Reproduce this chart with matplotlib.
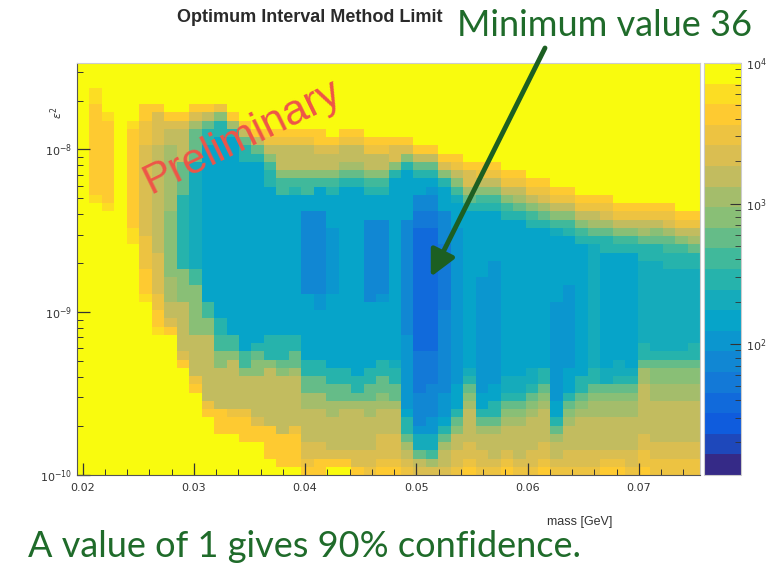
import sys
import numpy as np
import matplotlib
matplotlib.use("Agg")
import matplotlib.pyplot as plt
from matplotlib.colors import LinearSegmentedColormap, ListedColormap, LogNorm
from matplotlib.ticker import MultipleLocator, FormatStrFormatter, LogLocator, NullFormatter

# ---------------- data ----------------
MASS_RANGE = [0.0195, 0.0755]          # x axis (mass [GeV])
EPS_RANGE = [1e-10, 3.4e-8]            # y axis (log)
Z_RANGE = [11.7, 1e4]                  # colour scale (log)
N_LEVELS = 20                          # ROOT contour levels
LEVEL_CODES = "0123456789abcdefghij"   # level 0 (lowest) .. level 19 (>= 1e4)
MIN_MASS = 0.0513
MIN_EPS = 1.65e-9
MIN_VALUE = 36

# one string per mass bin (left to right); runs "level*count" from top to bottom
COLUMN_LEVELS = [
    "j*50",
    "j*3 i*2 h*11 i*1 j*33",
    "j*6 i*1 h*10 i*1 j*32",
    "j*50",
    "j*7 i*1 h*12 i*2 j*28",
    "j*5 h*2 g*3 f*11 g*4 h*3 i*1 j*21",
    "j*5 h*1 f*4 e*13 f*5 g*2 h*2 i*1 j*17",
    "j*6 h*1 f*1 e*2 d*8 c*8 d*3 e*2 f*1 h*1 j*17",
    "j*6 h*1 f*1 e*4 b*4 9*9 c*4 e*6 f*1 h*1 j*13",
    "j*5 h*1 f*1 d*1 b*4 8*13 a*2 c*6 e*5 g*1 h*1 j*10",
    "j*5 h*1 e*1 b*1 9*2 7*19 a*2 c*2 e*8 g*1 h*1 j*7",
    "j*5 g*1 c*1 9*2 7*22 9*2 a*2 c*2 e*5 h*3 j*5",
    "j*6 h*1 d*1 9*1 7*24 a*2 c*1 e*6 g*1 h*2 j*5",
    "j*7 h*1 e*1 b*1 9*2 7*23 a*2 c*1 e*4 g*1 h*3 j*4",
    "j*8 h*1 e*1 b*1 9*1 7*22 9*1 b*1 c*2 e*5 f*1 h*2 j*4",
    "j*8 h*1 g*1 e*1 c*1 a*1 9*2 7*18 9*3 c*1 e*7 h*4 j*2",
    "j*8 h*1 g*1 e*3 c*1 a*2 7*17 9*3 b*1 c*1 e*7 h*4 j*1",
    "j*8 h*1 g*1 e*3 c*1 a*1 9*1 7*17 9*2 b*2 d*1 e*6 g*1 h*4 j*1",
    "j*8 h*1 g*1 e*3 c*1 a*2 7*2 5*10 7*8 9*2 b*2 d*2 e*4 f*2 g*1 h*1",
    "j*8 h*2 f*1 e*2 c*1 a*1 7*3 5*10 6*2 7*6 9*2 b*2 d*2 e*4 f*2 h*2",
    "j*9 h*1 f*1 e*2 c*1 a*1 9*1 7*4 6*8 7*9 9*2 b*2 d*2 e*4 f*1 h*1 j*1",
    "j*8 h*1 g*1 e*2 d*1 b*1 9*1 7*22 9*2 b*2 d*1 e*5 f*1 h*1 j*1",
    "j*8 h*1 g*1 e*2 d*1 b*1 9*1 7*23 9*2 b*1 d*1 e*5 f*2 h*1",
    "j*9 h*1 g*1 e*2 c*1 a*1 9*1 7*3 5*10 7*8 9*2 b*2 d*2 e*4 f*2 g*1",
    "j*9 h*1 g*1 e*2 c*1 a*1 9*1 7*3 5*9 6*1 7*7 9*2 b*2 c*1 d*1 e*3 f*3 g*1 h*1",
    "j*9 h*1 f*2 c*1 9*1 7*22 8*1 9*2 b*2 d*1 e*3 f*3 g*1 h*1",
    "j*9 h*1 f*1 c*1 9*1 7*6 5*14 6*9 7*1 9*2 b*1 d*1 e*1 f*1 g*1",
    "j*10 h*1 e*1 b*1 9*1 7*2 5*2 4*2 3*15 4*5 5*4 6*1 8*2 b*1 e*1 f*1",
    "j*10 h*1 e*1 b*1 9*1 7*1 6*1 5*2 4*2 3*15 4*4 5*4 6*2 8*2 a*1 d*1 f*1",
    "j*11 h*1 f*1 c*1 9*1 7*3 5*4 4*8 5*10 6*3 7*1 9*1 b*1 d*1 e*2 f*1",
    "j*11 h*1 g*1 e*1 c*1 a*1 8*1 7*3 6*19 7*3 9*1 b*1 c*1 e*2 f*2 g*1",
    "j*12 h*1 f*2 d*1 b*1 9*1 7*19 8*1 9*1 b*1 c*1 d*1 e*4 f*2 g*1 h*1",
    "j*12 h*1 g*1 e*1 c*1 a*1 9*1 7*8 6*14 7*2 9*1 b*1 d*1 e*2 f*2 g*1",
    "j*12 h*1 g*1 e*1 c*1 a*1 9*1 7*6 6*15 7*2 9*2 b*1 d*1 e*3 f*1 g*1",
    "j*13 h*1 g*1 e*1 c*1 a*1 9*1 7*19 8*2 9*1 b*1 c*1 d*1 e*3 f*1 g*1 h*1",
    "j*13 h*1 g*1 e*1 d*1 b*1 9*1 7*19 8*2 9*1 b*1 c*1 d*1 e*4 f*1 g*1",
    "j*14 h*1 g*1 e*1 c*1 a*1 9*1 7*17 8*2 9*1 b*1 c*1 d*1 e*4 f*2 g*1",
    "j*14 h*1 g*1 f*1 d*1 b*1 9*1 7*17 9*2 b*1 c*1 d*1 e*4 f*2 g*1 h*1",
    "j*15 h*1 g*1 e*1 c*1 a*1 8*1 7*8 6*12 7*2 9*1 b*1 d*1 e*2 f*1 g*1",
    "j*15 h*1 g*1 e*1 c*1 a*1 9*1 7*6 6*10 7*3 9*1 b*1 c*1 d*1 e*3 f*2 g*1",
    "j*16 h*1 g*1 e*1 c*1 a*1 9*1 7*16 9*2 b*1 c*1 d*1 e*4 f*2 g*1",
    "j*16 h*1 g*1 e*1 d*1 b*1 9*1 8*15 9*2 b*1 c*1 d*2 e*4 f*2 g*1",
    "j*16 h*1 g*1 f*1 d*1 b*1 9*2 7*14 8*2 b*1 c*1 d*2 e*4 f*1 g*1 h*1",
    "j*17 h*1 g*1 e*1 c*1 a*1 9*1 7*13 8*2 9*1 b*1 c*1 d*2 e*4 f*1 g*1 h*1",
    "j*17 h*1 g*1 e*1 c*1 a*1 9*1 7*14 8*1 9*1 b*1 c*1 d*2 e*4 f*2 g*1",
    "j*17 h*1 g*1 e*1 d*1 b*1 9*2 8*10 9*2 b*1 d*2 e*6 f*2 g*2 h*1",
    "j*17 h*1 g*1 e*1 c*1 b*1 9*2 8*11 9*1 b*1 c*2 d*2 e*5 f*2 g*2",
    "j*17 h*1 g*1 f*1 d*1 b*1 a*1 9*2 8*10 9*1 b*1 c*2 d*2 e*5 f*2 g*2",
    "j*18 h*1 g*1 e*1 c*1 a*1 9*2 8*10 9*1 b*1 c*2 d*2 e*5 f*2 g*2",
    "j*18 h*1 g*1 e*1 d*1 b*1 9*2 8*9 9*2 b*1 c*2 d*2 e*5 f*2 g*2",
]
N_EPS_BINS = 50

# ---------------- build the histogram ----------------
def expand(col):
    out = []
    for tok in col.split():
        code, cnt = tok.split("*")
        out += [LEVEL_CODES.index(code)] * int(cnt)
    if len(out) != N_EPS_BINS:
        print("column length", len(out), col, file=sys.stderr)
        out = (out + [out[-1]] * N_EPS_BINS)[:N_EPS_BINS]
    return out

levels = np.array([expand(c) for c in COLUMN_LEVELS]).T  # rows: top -> bottom
levels = levels[::-1]                                    # rows: bottom -> top
lo, hi = np.log10(Z_RANGE[0]), np.log10(Z_RANGE[1])
step = (hi - lo) / N_LEVELS
zvals = 10 ** (lo + (levels + 0.5) * step)

nx = len(COLUMN_LEVELS)
xedges = np.linspace(MASS_RANGE[0], MASS_RANGE[1], nx + 1)
yedges = np.logspace(np.log10(EPS_RANGE[0]), np.log10(EPS_RANGE[1]), N_EPS_BINS + 1)

# ROOT kBird palette
stops = [0.0, 0.125, 0.25, 0.375, 0.5, 0.625, 0.75, 0.875, 1.0]
red = [0.2082, 0.0592, 0.0780, 0.0232, 0.1802, 0.5301, 0.8186, 0.9956, 0.9764]
green = [0.1664, 0.3599, 0.5041, 0.6419, 0.7178, 0.7492, 0.7328, 0.7862, 0.9832]
blue = [0.5293, 0.8684, 0.8385, 0.7914, 0.6425, 0.4662, 0.3499, 0.1968, 0.0539]
bird = LinearSegmentedColormap.from_list(
    "bird", [(s, (r, g, b)) for s, r, g, b in zip(stops, red, green, blue)])
pos = [(k + 0.5) / N_LEVELS for k in range(N_LEVELS)]
pos[0], pos[-1] = 0.0, 1.0
cmap = ListedColormap([bird(p) for p in pos])
cmap.set_over(bird(1.0))
norm = LogNorm(vmin=Z_RANGE[0], vmax=Z_RANGE[1])

# ---------------- figure ----------------
W, H = 779, 574
fig = plt.figure(figsize=(W / 100, H / 100), dpi=100)
fig.patch.set_facecolor("white")

def fx(px):
    return px / W

def fy(py):
    return 1 - py / H

ax = fig.add_axes([fx(77), fy(475), fx(700) - fx(77), fy(63) - fy(475)])
mesh = ax.pcolormesh(xedges, yedges, zvals, cmap=cmap, norm=norm, shading="flat")
ax.set_yscale("log")
ax.set_xlim(MASS_RANGE)
ax.set_ylim(EPS_RANGE)

ax.xaxis.set_major_locator(MultipleLocator(0.01))
ax.xaxis.set_minor_locator(MultipleLocator(0.002))
ax.xaxis.set_major_formatter(FormatStrFormatter("%.2f"))
ax.yaxis.set_major_locator(LogLocator(base=10))
ax.yaxis.set_minor_locator(LogLocator(base=10, subs=np.arange(2, 10)))
ax.yaxis.set_minor_formatter(NullFormatter())
ax.tick_params(which="both", direction="in", top=False, right=False,
               labelsize=8, labelcolor="#333333", color="#333333")
ax.tick_params(which="major", length=9, width=0.9)
ax.tick_params(which="minor", length=4.5, width=0.7, labelleft=False, labelbottom=False)
ax.tick_params(axis="x", pad=6)
for s in ["left", "bottom"]:
    ax.spines[s].set_color("#555555")
for s in ["top", "right"]:
    ax.spines[s].set_color("#cccccc")

# colour bar
cax = fig.add_axes([fx(704), fy(475), fx(741) - fx(704), fy(63) - fy(475)])
cb = fig.colorbar(mesh, cax=cax)
cb.outline.set_edgecolor("#cccccc")
cax.yaxis.set_major_locator(LogLocator(base=10))
cax.yaxis.set_minor_locator(LogLocator(base=10, subs=np.arange(2, 10)))
cax.yaxis.set_minor_formatter(NullFormatter())
cax.tick_params(which="both", direction="in", labelsize=8, labelcolor="#333333",
                color="#333333")
cax.tick_params(which="major", length=8)
cax.tick_params(which="minor", length=4, labelright=False)

# texts
NARROW = ["Liberation Sans Narrow", "Liberation Sans", "DejaVu Sans"]
fig.text(fx(310), fy(18), "Optimum Interval Method Limit", ha="center", va="center",
         fontsize=13, fontweight="bold", color="#2a2a2a", family=NARROW)
GREEN = "#1f6b2a"
fig.text(fx(605), fy(25), f"Minimum value {MIN_VALUE}", ha="center", va="center",
         fontsize=26, color=GREEN, family=["Lato", "DejaVu Sans"])
fig.text(fx(28), fy(557), "A value of 1 gives 90% confidence.", ha="left",
         va="baseline", fontsize=26, color=GREEN, family=["Lato", "DejaVu Sans"])
fig.text(fx(612), fy(522), "mass [GeV]", ha="right", va="center", fontsize=9,
         color="#333333", family=NARROW)
fig.text(fx(57), fy(113), r"$\epsilon^2$", ha="center", va="center", rotation=90,
         fontsize=8, color="#333333")
fig.text(fx(242), fy(137), "Preliminary", ha="center", va="center", rotation=26,
         rotation_mode="anchor", fontsize=31, color="#ee5548",
         family=["Liberation Sans", "DejaVu Sans"])

ax.annotate("", xy=(MIN_MASS, MIN_EPS), xycoords="data",
            xytext=(fx(545), fy(48)), textcoords="figure fraction",
            arrowprops=dict(arrowstyle="-|>,head_length=1.2,head_width=0.6",
                            color="#1c5f22", lw=3.5, shrinkA=0, shrinkB=0,
                            mutation_scale=13),
            annotation_clip=False)

fig.savefig("out.png", dpi=100)
